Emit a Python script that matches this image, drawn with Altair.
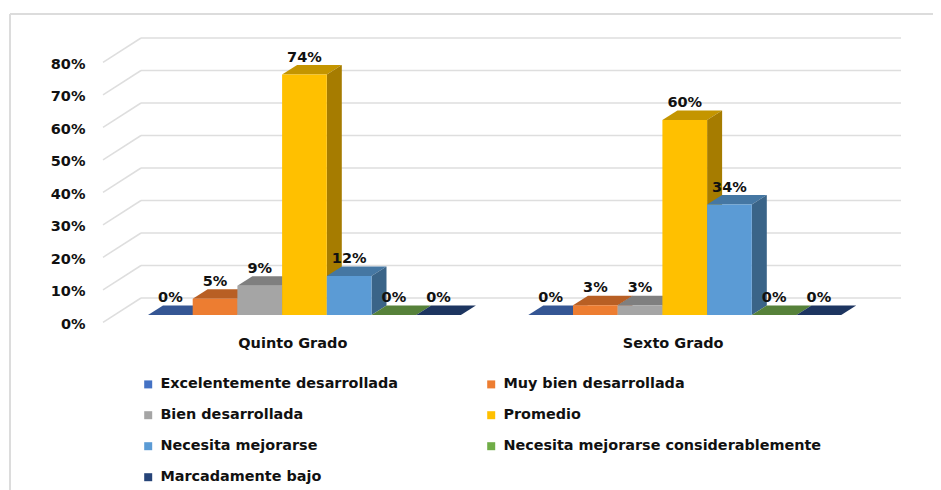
import altair as alt
import pandas as pd

# ---- values ----
SERIES = ["Excelentemente desarrollada", "Muy bien desarrollada", "Bien desarrollada", "Promedio",
          "Necesita mejorarse", "Necesita mejorarse considerablemente", "Marcadamente bajo"]
GROUPS = ["Quinto Grado", "Sexto Grado"]
QUINTO = [0, 5, 9, 74, 12, 0, 0]
SEXTO = [0, 3, 3, 60, 34, 0, 0]
TICKS = [0, 10, 20, 30, 40, 50, 60, 70, 80]

# ---- colours ----
FRONT = ["#4472C4", "#ED7D31", "#A5A5A5", "#FFC000", "#5B9BD5", "#70AD47", "#264478"]
TOP = ["#355694", "#B85F24", "#7F7F7F", "#C49500", "#4577A3", "#56813A", "#1D3560"]
SIDE = ["#2A4578", "#95491B", "#636363", "#A67C00", "#3A6488", "#44672D", "#172A4D"]
GRID = "#DEDEDE"
FRAME = "#DCDCDC"
INK = "#111111"
FONT = "DejaVu Sans"

# ---- layout ----
W, H = 925, 482
SLOT = 44.7       # px per bar
PCT = 3.25        # px per percentage point
X0_PX, Y0_PX = 140.0, 307.0   # where the first bar's base sits in the plot
GROUP_GAP = 8.508 # group start distance, in bars
DX = 15 / SLOT    # bar depth, in bars
DY = 9.5 / PCT    # bar depth, in percent
xscale = alt.Scale(domain=[-X0_PX / SLOT, (W - X0_PX) / SLOT], nice=False, zero=False)
yscale = alt.Scale(domain=[(Y0_PX - H) / PCT, Y0_PX / PCT], nice=False, zero=False)

fronts, faces, labels = [], [], []
for g, (group, vals) in enumerate(zip(GROUPS, [QUINTO, SEXTO])):
    for i, v in enumerate(vals):
        x0 = g * GROUP_GAP + i
        x1 = x0 + 1
        fronts.append(dict(s=SERIES[i], x=x0, x2=x1, y=0, y2=v))
        labels.append(dict(x=(x0 + x1) / 2, y=v, t=f"{v}%"))
        fid = f"{g}-{i}"
        for px, up, lo in [(x0, v, v), (x0 + DX, v + DY, v), (x1, v + DY, v), (x1 + DX, v + DY, v + DY)]:
            faces.append(dict(face=fid + "t", fill=TOP[i], x=px, up=up, lo=lo))
        for px, up, lo in [(x1, v, 0), (x1 + DX, v + DY, DY)]:
            faces.append(dict(face=fid + "s", fill=SIDE[i], x=px, up=up, lo=lo))

BACK_L, BACK_R, FRONT_L = (141 - 148) / SLOT, (901 - 148) / SLOT, (103 - 148) / SLOT
BACK_UP, FRONT_DOWN = 17 / PCT, 7.3 / PCT
grid_h = pd.DataFrame([dict(x=BACK_L, x2=BACK_R, y=t + BACK_UP) for t in TICKS])
grid_d = pd.DataFrame([r for t in TICKS for r in (dict(t=t, x=BACK_L, y=t + BACK_UP),
                                                  dict(t=t, x=FRONT_L, y=t - FRONT_DOWN))])
CAT_Y = -28.5 / PCT
cats = pd.DataFrame([dict(x=g * GROUP_GAP + 3.24, y=CAT_Y, t=name) for g, name in enumerate(GROUPS)])

y_axis = alt.Axis(values=TICKS, labelExpr="datum.value + '%'", orient="left", title=None,
                  domain=False, ticks=False, grid=False, offset=-77, labelPadding=0, labelOffset=9,
                  labelFont=FONT, labelFontWeight="bold", labelFontSize=14.5, labelColor=INK)

X = lambda f="x": alt.X(f"{f}:Q", scale=xscale, axis=None)
Y = lambda f="y": alt.Y(f"{f}:Q", scale=yscale, axis=y_axis, stack=None)

axis_l = alt.Chart(grid_h).mark_rule(stroke=GRID, strokeWidth=1.5).encode(x=X(), x2="x2:Q", y=Y())
diag_l = alt.Chart(grid_d).mark_line(stroke=GRID, strokeWidth=1.5).encode(x=X(), y=Y(), detail="t:N")
faces_l = alt.Chart(pd.DataFrame(faces)).mark_area(strokeWidth=0).encode(
    x=X(), y=Y("up"), y2="lo:Q", detail="face:N", color=alt.Color("fill:N", scale=None))
front_l = alt.Chart(pd.DataFrame(fronts)).mark_rect().encode(
    x=X(), x2="x2:Q", y=Y(), y2="y2:Q",
    color=alt.Color("s:N", scale=alt.Scale(domain=SERIES, range=FRONT), sort=SERIES,
                    legend=alt.Legend(orient="none", legendX=133, legendY=369, direction="horizontal",
                                      columns=2, title=None, padding=0, symbolType="square", symbolSize=64,
                                      symbolStrokeWidth=0, labelOffset=5, rowPadding=16, columnPadding=85,
                                      labelFont=FONT, labelFontWeight="bold", labelFontSize=14.4,
                                      labelColor=INK, labelLimit=400)))
text_l = alt.Chart(pd.DataFrame(labels)).mark_text(
    font=FONT, fontWeight="bold", fontSize=14.5, color=INK, dy=-17, baseline="middle", align="center"
).encode(x=X(), y=Y(), text="t:N")
cat_l = alt.Chart(cats).mark_text(
    font=FONT, fontWeight="bold", fontSize=14.5, color=INK, baseline="middle", align="center"
).encode(x=X(), y=Y(), text="t:N")
frame_t = alt.Chart(pd.DataFrame({"a": [0]})).mark_rule(stroke=FRAME, strokeWidth=2).encode(
    x=alt.value(2), x2=alt.value(W), y=alt.value(6))
frame_l = alt.Chart(pd.DataFrame({"a": [0]})).mark_rule(stroke=FRAME, strokeWidth=2).encode(
    x=alt.value(2), y=alt.value(6), y2=alt.value(H))

chart = alt.layer(axis_l, diag_l, faces_l, front_l, text_l, cat_l, frame_t, frame_l).properties(
    width=W, height=H, padding=0, autosize=alt.AutoSizeParams(type="none"), background="white"
).configure_view(stroke=None)

chart.save("out.html", embed_options={"renderer": "svg", "actions": False})
